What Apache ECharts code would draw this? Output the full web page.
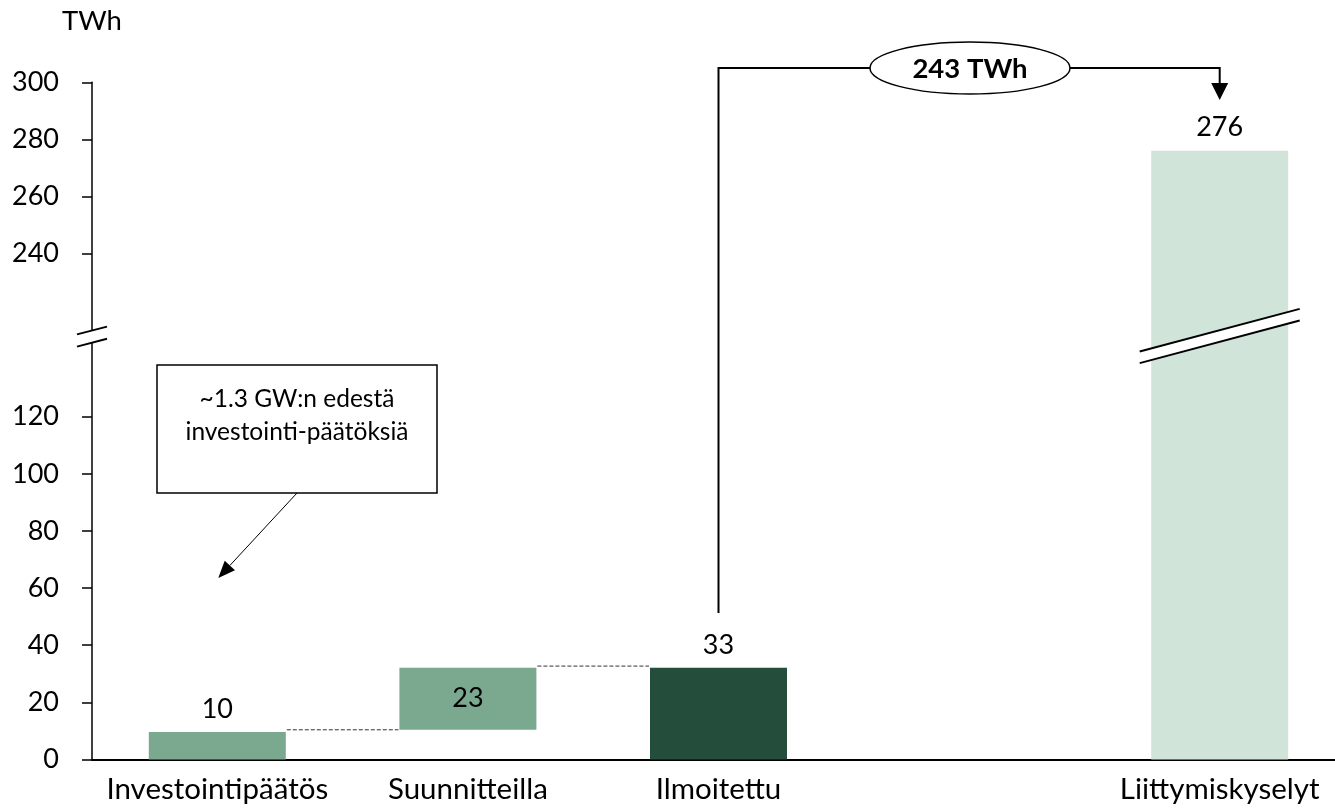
<!DOCTYPE html>
<html><head><meta charset="utf-8">
<script src="https://cdn.jsdelivr.net/npm/echarts@6/dist/echarts.min.js"></script>
<style>html,body{margin:0;padding:0;background:#fff}#c{width:1335px;height:808px}</style>
</head><body><div id="c"></div>
<script>
// ---- data ----
const categories = ['Investointipäätös', 'Suunnitteilla', 'Ilmoitettu', '', 'Liittymiskyselyt'];
const baseValues = [0, 10.4, 0, null, 0];          // invisible waterfall offsets
const barValues  = [9.6, 21.7, 32.1, null, 276];   // visible bar heights
const barLabels  = ['10', '23', '33', '', '276'];
const barColors  = ['#7BA990', '#7BA990', '#244D3B', null, '#D0E4DA'];
const labelPlaces = ['top', 'inside', 'top', null, 'top'];
const lowerTicks = [0, 20, 40, 60, 80, 100, 120];
const upperTicks = [240, 260, 280, 300];
const unitLabel = 'TWh';
const boxText = ['~1.3 GW:n edestä', 'investointi-päätöksiä'];
const bracketText = '243 TWh';

// ---- layout ----
const FONT = 'Lato';
const AX_X = 92, ZERO_Y = 759.5, TOP_Y = 82.3, BREAK_Y = 336;
const PLOT_W = 1253;
const PX_PER_UNIT = (ZERO_Y - 416.7) / 120;
const lowerMax = (ZERO_Y - BREAK_Y) / PX_PER_UNIT;
const upperMax = upperTicks[upperTicks.length - 1];
const upperMin = upperMax - (BREAK_Y - TOP_Y) / PX_PER_UNIT;
const BAR_W = 137;

const chart = echarts.init(document.getElementById('c'), null, {renderer: 'canvas'});

function yAxisCfg(gi, min, max, ticks) {
  return {
    type: 'value', gridIndex: gi, min: min, max: max,
    axisLine: {show: true, lineStyle: {color: '#000', width: 1.5}},
    axisTick: {show: true, customValues: ticks, length: 10, lineStyle: {color: '#000', width: 1.5}},
    axisLabel: {show: true, customValues: ticks, margin: 33, color: '#000', fontFamily: FONT, fontSize: 27},
    splitLine: {show: false}
  };
}

const txt = {color: '#000', fontFamily: FONT, fontSize: 27};

chart.setOption({
  animation: false,
  backgroundColor: '#fff',
  grid: [
    {left: AX_X, width: PLOT_W, top: BREAK_Y, height: ZERO_Y - BREAK_Y, outerBoundsMode: 'none', containLabel: false},
    {left: AX_X, width: PLOT_W, top: TOP_Y, height: BREAK_Y - TOP_Y, outerBoundsMode: 'none', containLabel: false}
  ],
  xAxis: [
    {type: 'category', gridIndex: 0, data: categories,
     axisLine: {show: true, lineStyle: {color: '#000', width: 2}},
     axisTick: {show: false},
     axisLabel: {show: true, interval: 0, margin: 15, color: '#000', fontFamily: FONT, fontSize: 29.5}},
    {type: 'category', gridIndex: 1, data: categories, show: false}
  ],
  yAxis: [
    yAxisCfg(0, 0, lowerMax, lowerTicks),
    yAxisCfg(1, upperMin, upperMax, upperTicks)
  ],
  series: [
    {type: 'bar', name: 'pohja', xAxisIndex: 0, yAxisIndex: 0, stack: 'w', barWidth: BAR_W,
     itemStyle: {color: 'rgba(0,0,0,0)'}, silent: true, data: baseValues},
    {type: 'bar', name: 'arvo', xAxisIndex: 0, yAxisIndex: 0, stack: 'w', barWidth: BAR_W, clip: true,
     data: barValues.map((v, i) => ({
       value: v,
       itemStyle: {color: barColors[i] || 'rgba(0,0,0,0)'},
       label: {show: v != null && v <= lowerMax, position: labelPlaces[i] || 'top', distance: 9,
               formatter: barLabels[i], ...txt}
     }))},
    {type: 'bar', name: 'arvo-yla', xAxisIndex: 1, yAxisIndex: 1, barWidth: BAR_W, clip: true,
     data: barValues.map((v, i) => v != null && v > lowerMax ? {
       value: v,
       itemStyle: {color: barColors[i]},
       label: {show: true, position: labelPlaces[i], distance: 10, formatter: barLabels[i], ...txt}
     } : null)}
  ]
});

function px(gi, i, v) {
  return chart.convertToPixel({xAxisIndex: gi, yAxisIndex: gi}, [i, v]);
}

const g = [];
const blk = {stroke: '#000', lineWidth: 2, fill: null};

// axis break marks
(function () {
  const ax = AX_X, by = BREAK_Y + 0.6, hw = 15, dy = 3.9, gap = 6.1;
  g.push({type: 'polygon', z: 100, shape: {points: [[ax - hw, by - gap + dy], [ax + hw, by - gap - dy], [ax + hw, by + gap - dy], [ax - hw, by + gap + dy]]},
          style: {fill: '#fff', stroke: null}});
  g.push({type: 'line', z: 101, shape: {x1: ax - hw, y1: by - gap + dy, x2: ax + hw, y2: by - gap - dy}, style: blk});
  g.push({type: 'line', z: 101, shape: {x1: ax - hw, y1: by + gap + dy, x2: ax + hw, y2: by + gap - dy}, style: blk});
})();

// bar break marks on the tall bar
barValues.forEach((v, i) => {
  if (v == null || v <= lowerMax) return;
  const cx = px(0, i, 0)[0], by = BREAK_Y, hw = 80, dy = 21.35, gap = 5.8;
  g.push({type: 'polygon', z: 100, shape: {points: [[cx - hw, by - gap + dy], [cx + hw, by - gap - dy], [cx + hw, by + gap - dy], [cx - hw, by + gap + dy]]},
          style: {fill: '#fff', stroke: null}});
  g.push({type: 'line', z: 101, shape: {x1: cx - hw, y1: by - gap + dy, x2: cx + hw, y2: by - gap - dy}, style: blk});
  g.push({type: 'line', z: 101, shape: {x1: cx - hw, y1: by + gap + dy, x2: cx + hw, y2: by + gap - dy}, style: blk});
});

// dashed connectors of the waterfall
(function () {
  const lvl1 = baseValues[1];
  const lvl2 = baseValues[1] + barValues[1] + 0.6;
  const a = px(0, 0, lvl1), b = px(0, 1, lvl1);
  const c = px(0, 1, lvl2), d = px(0, 2, lvl2);
  const ds = {stroke: '#333', lineWidth: 1, lineDash: [4, 2]};
  g.push({type: 'line', z: 50, shape: {x1: a[0] + BAR_W / 2 + 1, y1: a[1], x2: b[0] - BAR_W / 2 - 1, y2: b[1]}, style: ds});
  g.push({type: 'line', z: 50, shape: {x1: c[0] + BAR_W / 2 + 1, y1: c[1], x2: d[0] - BAR_W / 2 - 1, y2: d[1]}, style: ds});
})();

// unit label
g.push({type: 'text', x: 62, y: 21.5, style: {text: unitLabel, fill: '#000', font: '27.5px ' + FONT, align: 'left', verticalAlign: 'middle'}});

// annotation box + arrow
(function () {
  const bx = 157, byy = 365, bw = 280, bh = 128;
  g.push({type: 'rect', z: 60, shape: {x: bx, y: byy, width: bw, height: bh}, style: {fill: '#fff', stroke: '#000', lineWidth: 1.5}});
  g.push({type: 'text', z: 61, x: bx + bw / 2, y: 399, style: {text: boxText[0], fill: '#000', font: '24.5px ' + FONT, align: 'center', verticalAlign: 'middle'}});
  g.push({type: 'text', z: 61, x: bx + bw / 2, y: 432, style: {text: boxText[1], fill: '#000', font: '24.5px ' + FONT, align: 'center', verticalAlign: 'middle'}});
  const tip = [px(0, 0, 0)[0] + 1, 578];
  const start = [bx + bw / 2, byy + bh];
  const ang = Math.atan2(tip[1] - start[1], tip[0] - start[0]);
  const L = 17, W = 7;
  const base = [tip[0] - L * Math.cos(ang), tip[1] - L * Math.sin(ang)];
  g.push({type: 'line', z: 60, shape: {x1: start[0], y1: start[1], x2: base[0], y2: base[1]}, style: {stroke: '#000', lineWidth: 1}});
  g.push({type: 'polygon', z: 60, shape: {points: [tip,
    [base[0] + W * Math.sin(ang), base[1] - W * Math.cos(ang)],
    [base[0] - W * Math.sin(ang), base[1] + W * Math.cos(ang)]]}, style: {fill: '#000'}});
})();

// bracket 243 TWh
(function () {
  const x1 = px(0, 2, 0)[0];
  const x2 = px(1, 4, 300)[0];
  const yTop = 68, yLow = 613, yArrowBase = 83, yTip = 100;
  g.push({type: 'polyline', z: 60, shape: {points: [[x1, yLow], [x1, yTop], [x2, yTop], [x2, yArrowBase]]}, style: {stroke: '#000', lineWidth: 2, fill: null}});
  g.push({type: 'polygon', z: 60, shape: {points: [[x2 - 8.5, yArrowBase], [x2 + 8.5, yArrowBase], [x2, yTip]]}, style: {fill: '#000'}});
  const cx = 970;
  g.push({type: 'ellipse', z: 61, shape: {cx: cx, cy: yTop, rx: 100, ry: 26}, style: {fill: '#fff', stroke: '#000', lineWidth: 1.5}});
  g.push({type: 'text', z: 62, x: cx, y: yTop + 1.5, style: {text: bracketText, fill: '#000', font: 'bold 27.5px ' + FONT, align: 'center', verticalAlign: 'middle'}});
})();

chart.setOption({graphic: g});
</script>
</body></html>
